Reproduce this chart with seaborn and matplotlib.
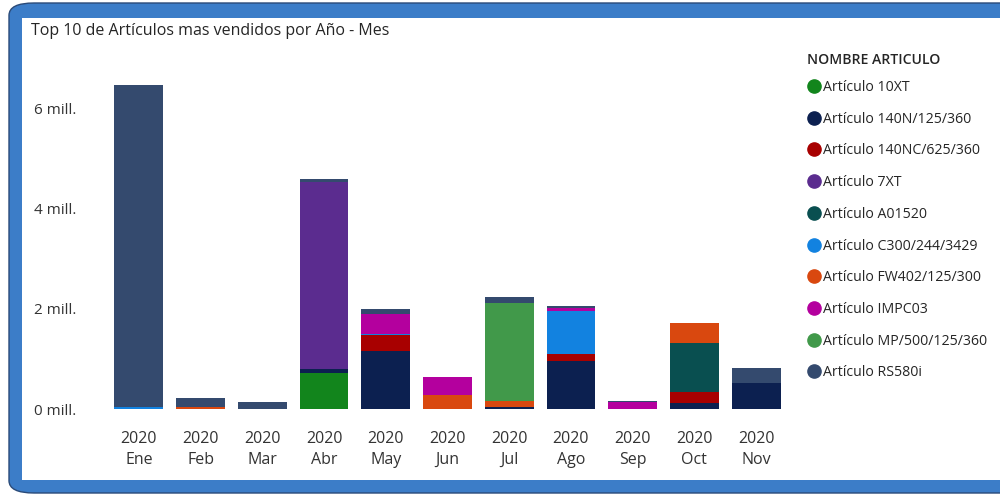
import matplotlib
matplotlib.use("Agg")
import matplotlib.pyplot as plt
import seaborn as sns
import numpy as np
import pandas as pd
from matplotlib.patches import FancyBboxPatch, Rectangle
from matplotlib.lines import Line2D
from matplotlib.ticker import FuncFormatter

months = ["Ene", "Feb", "Mar", "Abr", "May", "Jun", "Jul", "Ago", "Sep", "Oct", "Nov"]
year = "2020"
articles = ["Artículo 10XT", "Artículo 140N/125/360", "Artículo 140NC/625/360", "Artículo 7XT",
            "Artículo A01520", "Artículo C300/244/3429", "Artículo FW402/125/300",
            "Artículo IMPC03", "Artículo MP/500/125/360", "Artículo RS580i"]
# values in millions, per article, Ene..Nov
v_10xt   = [0, 0, 0, 0.73, 0, 0, 0, 0, 0, 0, 0]
v_140n   = [0, 0, 0, 0.07, 1.17, 0, 0.05, 0.96, 0, 0.13, 0.52]
v_140nc  = [0, 0, 0, 0, 0.32, 0, 0, 0.14, 0, 0.21, 0.01]
v_7xt    = [0, 0, 0, 3.73, 0, 0, 0, 0, 0, 0, 0]
v_a01520 = [0, 0, 0, 0, 0, 0, 0, 0, 0, 0.99, 0]
v_c300   = [0.05, 0, 0, 0, 0.02, 0, 0, 0.86, 0, 0, 0]
v_fw402  = [0, 0.04, 0, 0, 0, 0.28, 0.12, 0, 0, 0.40, 0]
v_impc03 = [0, 0, 0, 0, 0.39, 0.36, 0, 0.07, 0.14, 0, 0]
v_mp     = [0, 0, 0, 0, 0, 0, 1.95, 0, 0, 0, 0]
v_rs580i = [6.43, 0.18, 0.15, 0.07, 0.11, 0, 0.13, 0.03, 0.03, 0, 0.29]
series = [v_10xt, v_140n, v_140nc, v_7xt, v_a01520, v_c300, v_fw402, v_impc03, v_mp, v_rs580i]
colors = ["#12851c", "#0c2050", "#a80000", "#5b2c8f", "#094f50", "#1282e0",
          "#d9480f", "#b4009e", "#41994a", "#344a6e"]

FONT = ["Open Sans", "DejaVu Sans"]
plt.rcParams["font.family"] = FONT

fig = plt.figure(figsize=(10, 4.94), dpi=100, facecolor="white")
W, H = 1000, 494

def fx(px): return px / W
def fy(py): return 1 - py / H

# frame
outer = FancyBboxPatch((fx(9), fy(493)), fx(1040), (493 - 3) / H,
                       boxstyle="round,pad=0,rounding_size=0.025",
                       transform=fig.transFigure, facecolor="#3c7dc8",
                       edgecolor="#2a4a78", linewidth=1.0, zorder=-3)
fig.patches.append(outer)
inner = Rectangle((fx(22), fy(480)), fx(990), (480 - 18) / H,
                  transform=fig.transFigure, facecolor="white", edgecolor="none", zorder=-2)
fig.patches.append(inner)

fig.text(fx(31), fy(31), "Top 10 de Artículos mas vendidos por Año - Mes",
         fontsize=11.5, color="#252525", va="center", ha="left")

ax = fig.add_axes([fx(108), fy(409), (787 - 108) / W, 350 / H])
ax.set_facecolor("none")
ax.set_zorder(1)

cum = np.cumsum(np.array(series), axis=0)
xlabels = [f"{year}\n{m}" for m in months]
for i in range(len(series) - 1, -1, -1):
    df = pd.DataFrame({"mes": xlabels, "valor": cum[i]})
    sns.barplot(data=df, x="mes", y="valor", color=colors[i], saturation=1,
                width=0.79, errorbar=None, ax=ax, linewidth=0)

ax.set_ylim(0, 7)
ax.set_xlim(-0.5, 10.5)
ax.set_yticks([0, 2, 4, 6])
ax.yaxis.set_major_formatter(FuncFormatter(lambda v, p: f"{v:.0f} mill."))
ax.set_xlabel("")
ax.set_ylabel("")
for s in ax.spines.values():
    s.set_visible(False)
ax.tick_params(axis="y", length=0, pad=23, labelsize=11, labelcolor="#333333")
ax.tick_params(axis="x", length=0, pad=15.5, labelsize=11.5, labelcolor="#333333")
for t in ax.get_xticklabels():
    t.set_linespacing(1.45)
ax.grid(False)

# legend
handles = [Line2D([0], [0], marker="o", linestyle="none", markersize=9.5,
                  markerfacecolor=c, markeredgecolor=c) for c in colors]
fig.text(fx(807), fy(60), "NOMBRE ARTICULO", fontsize=10.1, color="#252525",
         fontweight="semibold", va="center", ha="left")
leg = fig.legend(handles, articles, loc="upper left",
                 bbox_to_anchor=(fx(805), fy(80)), bbox_transform=fig.transFigure,
                 frameon=False, fontsize=10.2, handletextpad=0.0, handlelength=1.3,
                 labelspacing=1.18, borderaxespad=0, borderpad=0)
for t in leg.get_texts():
    t.set_color("#252525")

fig.savefig("out.png", dpi=100, facecolor="white")
